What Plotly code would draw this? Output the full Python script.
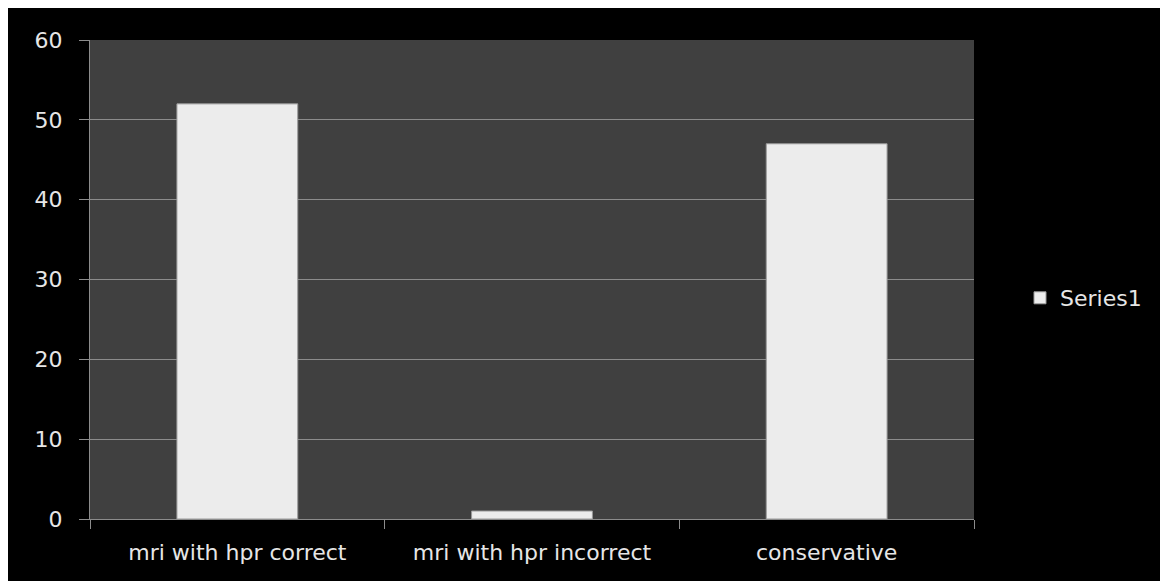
import plotly.graph_objects as go

categories = ["mri with hpr correct", "mri with hpr incorrect", "conservative"]
values = [52, 1, 47]
series_name = "Series1"
y_ticks = [0, 10, 20, 30, 40, 50, 60]

OFF = 8  # page body margin
W, H = 1168 - OFF, 581 - OFF
L, R, T, B = 90 - OFF, 194, 40 - OFF, 62
pw, ph = W - L - R, H - T - B

def px_x(p):
    return (p - OFF - L) / pw

def px_y(p):
    return (H - B - (p - OFF)) / ph

fig = go.Figure()
fig.add_trace(go.Bar(
    x=categories, y=values, name=series_name,
    width=0.41,
    marker=dict(color="#ececec", line=dict(color="#9a9a9a", width=1)),
    showlegend=True,
))

font = "DejaVu Sans, sans-serif"
fs = 22
fig.update_layout(
    width=W, height=H,
    margin=dict(l=L, r=R, t=T, b=B, autoexpand=False),
    paper_bgcolor="black",
    plot_bgcolor="#404040",
    font=dict(family=font, size=fs, color="#e6e6e6"),
    showlegend=True,
    legend=dict(x=px_x(1020), y=px_y(298), xanchor="left", yanchor="middle",
                bgcolor="rgba(0,0,0,0)", font=dict(size=fs, color="#e6e6e6"),
                itemwidth=30),
    xaxis=dict(range=[-0.5, 2.5], showline=True, linecolor="#8c8c8c", linewidth=1,
               ticks="outside", tickson="boundaries", ticklen=9, tickcolor="#8c8c8c",
               showgrid=False, ticklabelstandoff=14,
               tickfont=dict(size=fs, color="#e6e6e6")),
    yaxis=dict(range=[0, 60], tickvals=y_ticks, showline=True, linecolor="#8c8c8c",
               linewidth=1, ticks="outside", ticklen=10, tickcolor="#8c8c8c",
               showgrid=True, gridcolor="#8c8c8c", gridwidth=1, zeroline=False,
               ticklabelstandoff=12, tickfont=dict(size=fs, color="#e6e6e6")),
)

fig.write_html("out.html")
